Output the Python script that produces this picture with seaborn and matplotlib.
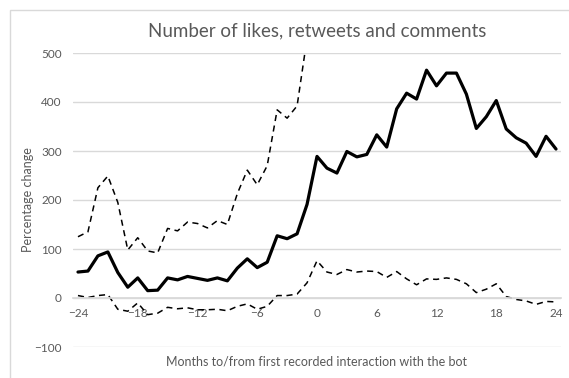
import numpy as np
import pandas as pd
import matplotlib
matplotlib.use("Agg")
import matplotlib.pyplot as plt
import seaborn as sns
from matplotlib.patches import Rectangle

months = list(range(-24, 25))

mean_change = [53, 55, 86, 94, 52, 22, 41, 15, 16, 41, 37, 44, 40, 36, 41, 35,
               61, 80, 62, 73, 127, 121, 131, 191,
               289, 265, 255, 299, 288, 293, 333, 308, 386, 418, 406, 465, 433,
               459, 459, 416, 346, 370, 403, 345, 327, 316, 289, 330, 304]

upper_bound = [125, 135, 225, 249, 195, 98, 123, 96, 92, 142, 137, 155, 152, 143,
               158, 150, 213, 261, 231, 270, 384, 367, 392, 530] + [np.nan] * 25

lower_bound = [5, 1, 5, 7, -23, -27, -10, -34, -31, -19, -22, -20, -24, -24, -23,
               -26, -17, -12, -23, -17, 5, 5, 8, 31,
               76, 53, 48, 58, 53, 55, 54, 42, 54, 39, 27, 39, 38, 41, 38, 29,
               11, 18, 29, 3, -3, -6, -13, -7, -8]

x_ticks = [-24, -18, -12, -6, 0, 6, 12, 18, 24]
y_ticks = [-100, 0, 100, 200, 300, 400, 500]

df = pd.DataFrame({"month": months, "mean": mean_change,
                   "upper": upper_bound, "lower": lower_bound})

sns.set_theme(style="white")
plt.rcParams["font.family"] = ["Lato", "DejaVu Sans"]

grey_text = "#595959"
grid_col = "#d9d9d9"

fig = plt.figure(figsize=(5.69, 3.78), dpi=100)
ax = fig.add_axes([73 / 569, 1 - 347 / 378, 488 / 569, 294 / 378])

sns.lineplot(data=df, x="month", y="upper", ax=ax, color="black",
             linewidth=1.1, linestyle=(0, (4, 3)))
sns.lineplot(data=df, x="month", y="lower", ax=ax, color="black",
             linewidth=1.1, linestyle=(0, (4, 3)))
sns.lineplot(data=df, x="month", y="mean", ax=ax, color="black",
             linewidth=2.3)

ax.set_xlim(-24.5, 24.5)
ax.set_ylim(-100, 500)
ax.set_xticks(x_ticks)
ax.set_yticks(y_ticks)
ax.yaxis.grid(True, color=grid_col, linewidth=1)
ax.set_axisbelow(True)
for s in ["top", "right", "left"]:
    ax.spines[s].set_visible(False)
ax.spines["bottom"].set_position(("data", 0))
ax.spines["bottom"].set_color(grid_col)
ax.tick_params(axis="both", length=0, labelsize=8.5, labelcolor=grey_text)
ax.tick_params(axis="y", pad=8)
ax.tick_params(axis="x", pad=7)

ax.set_title("Number of likes, retweets and comments", fontsize=13.5,
             color=grey_text, pad=12)
ax.set_xlabel("Months to/from first recorded interaction with the bot",
              fontsize=9, color=grey_text)
ax.xaxis.set_label_coords(0.5, -0.03)
ax.set_ylabel("Percentage change", fontsize=9, color=grey_text)
ax.yaxis.set_label_coords(-0.08, 0.5)

fig.patches.append(Rectangle((9.5 / 569, -0.1), 1.2, 1 - 9.5 / 378 + 0.1,
                             transform=fig.transFigure, fill=False,
                             edgecolor=grid_col, linewidth=1))

fig.savefig("out.png", dpi=100)
